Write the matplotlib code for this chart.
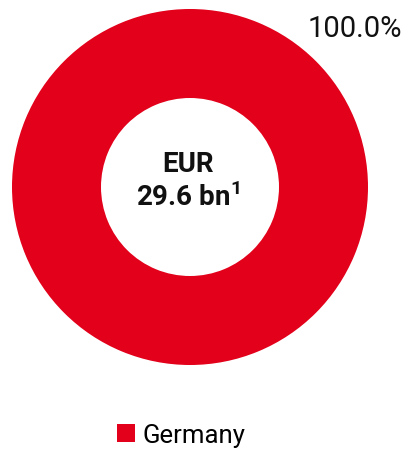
import matplotlib.pyplot as plt

countries = ["Germany"]
shares = [100.0]
colors = ["#E2001A"]
center_lines = ["EUR", r"29.6 bn$^{\mathbf{1}}$"]

plt.rcParams['font.family'] = ['Roboto', 'DejaVu Sans']
plt.rcParams['mathtext.fontset'] = 'custom'
plt.rcParams['mathtext.bf'] = 'Roboto:bold'
plt.rcParams['mathtext.rm'] = 'Roboto'

fig = plt.figure(figsize=(4.06, 4.52), dpi=100)
ax = fig.add_axes([12 / 406, 86 / 452, 356 / 406, 356 / 452])

wedges, _ = ax.pie(shares, colors=colors, startangle=90, counterclock=False,
                   radius=1.0, wedgeprops=dict(width=0.5, edgecolor="none"))
ax.set_xlim(-1, 1)
ax.set_ylim(-1, 1)
ax.axis("off")

# percentage label, top right
fig.text(355 / 406, 1 - 29 / 452, f"{shares[0]:.1f}%", fontsize=21,
         ha="center", va="center", color="#111111")

# centre text
fig.text(188 / 406, 1 - 165 / 452, center_lines[0], fontsize=20,
         fontweight="bold", ha="center", va="center", color="#111111")
fig.text(188 / 406, 1 - 197 / 452, center_lines[1], fontsize=20,
         fontweight="bold", ha="center", va="center", color="#111111")

fig.legend(wedges, countries, loc="center", bbox_to_anchor=(181 / 406, 1 - 436 / 452),
           frameon=False, fontsize=18.5, handlelength=0.7, handleheight=0.7,
           handletextpad=0.3)

fig.savefig("out.png", dpi=100)
